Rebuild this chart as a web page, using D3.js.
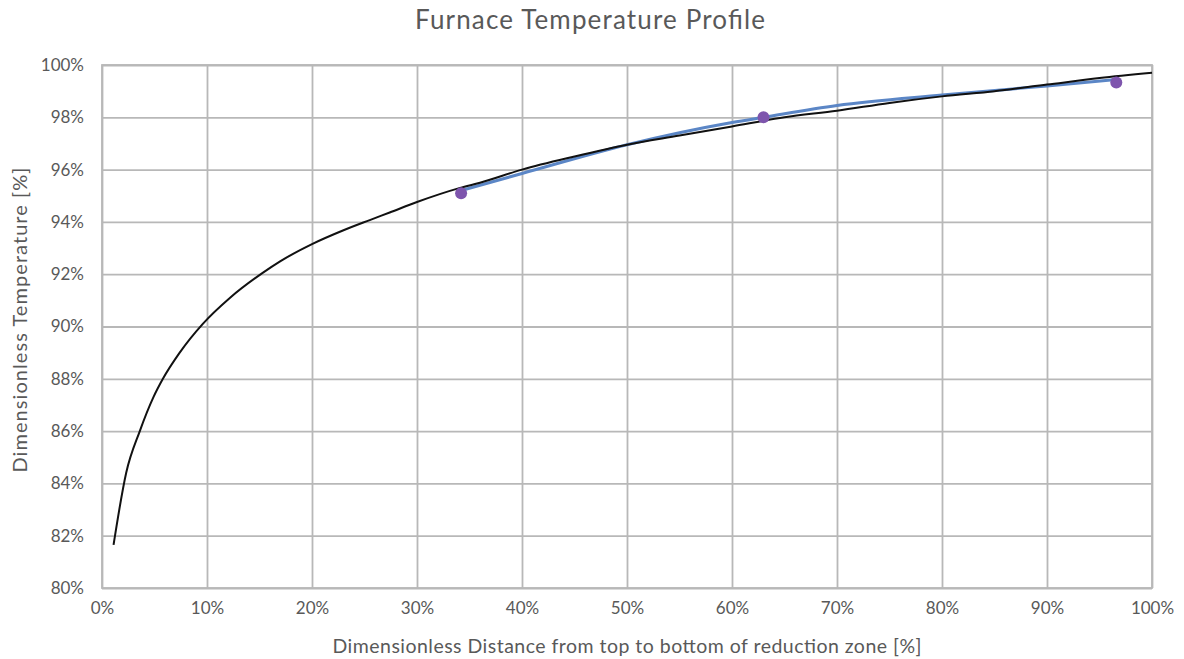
<!DOCTYPE html>
<html>
<head>
<meta charset="utf-8">
<script src="https://cdn.jsdelivr.net/npm/d3@7"></script>
<style>
  body { margin: 0; background: #fff; }
  text { font-family: Lato, "Open Sans", sans-serif; fill: #595959; }
</style>
</head>
<body>
<div id="chart"></div>
<script>
// measured profile (x = distance %, y = temperature %)
var profileX = [1.1, 2.3, 3.6, 4.9, 5.8, 7.4, 9.6, 12.2, 15.3, 17, 20, 23, 25.5, 27.4, 30, 34.1, 36, 40, 45, 50, 55, 60, 65, 70, 75, 80, 85, 90, 95, 100];
var profileY = [81.65, 84.4, 86.0, 87.3, 88.0, 89.0, 90.1, 91.1, 92.05, 92.5, 93.15, 93.68, 94.07, 94.36, 94.76, 95.3, 95.5, 96.0, 96.5, 96.95, 97.3, 97.65, 98.0, 98.25, 98.55, 98.8, 99.0, 99.25, 99.5, 99.7];

// fitted trend
var fitX = [34.2, 40, 50, 60, 63, 70, 80, 90, 96.6];
var fitY = [95.2, 95.85, 96.95, 97.8, 98.0, 98.45, 98.85, 99.2, 99.45];

// sample points
var pointX = [34.2, 63.0, 96.6];
var pointY = [95.1, 98.0, 99.33];

var xTicks = [0, 10, 20, 30, 40, 50, 60, 70, 80, 90, 100];
var yTicks = [80, 82, 84, 86, 88, 90, 92, 94, 96, 98, 100];

var svgWidth = 1184;
var svgHeight = 659;

var margin = {
  top: 65,
  right: 32,
  bottom: 71,
  left: 102
};

var width = svgWidth - margin.left - margin.right;
var height = svgHeight - margin.top - margin.bottom;

var svg = d3.select("#chart")
  .append("svg")
  .attr("width", svgWidth)
  .attr("height", svgHeight);

var chartGroup = svg.append("g")
  .attr("transform", `translate(${margin.left}, ${margin.top})`);

var xScale = d3.scaleLinear().domain([0, 100]).range([0, width]);
var yScale = d3.scaleLinear().domain([80, 100]).range([height, 0]);

// gridlines
var bottomAxis = d3.axisBottom(xScale)
  .tickValues(xTicks)
  .tickSize(-height)
  .tickFormat(d => d + "%")
  .tickPadding(14);

var leftAxis = d3.axisLeft(yScale)
  .tickValues(yTicks)
  .tickSize(-width)
  .tickFormat(d => d + "%")
  .tickPadding(18);

var xAxisG = chartGroup.append("g")
  .attr("transform", `translate(0, ${height})`)
  .call(bottomAxis);

var yAxisG = chartGroup.append("g")
  .call(leftAxis);

[xAxisG, yAxisG].forEach(function(g) {
  g.select(".domain").remove();
  g.selectAll("line").attr("stroke", "#b8b8b8").attr("stroke-width", 1.8);
  g.selectAll("text").style("font-size", "17px").attr("fill", "#595959");
});

// plot border
chartGroup.append("rect")
  .attr("width", width)
  .attr("height", height)
  .attr("fill", "none")
  .attr("stroke", "#b8b8b8")
  .attr("stroke-width", 1.8);

var profile = profileX.map((x, i) => [x, profileY[i]]);
var fit = fitX.map((x, i) => [x, fitY[i]]);

var line = d3.line()
  .x(d => xScale(d[0]))
  .y(d => yScale(d[1]))
  .curve(d3.curveMonotoneX);

chartGroup.append("path")
  .datum(fit)
  .attr("d", line)
  .attr("fill", "none")
  .attr("stroke", "#5b86c6")
  .attr("stroke-width", 3);

chartGroup.append("path")
  .datum(profile)
  .attr("d", line)
  .attr("fill", "none")
  .attr("stroke", "#111")
  .attr("stroke-width", 2);

chartGroup.selectAll("circle")
  .data(pointX)
  .enter()
  .append("circle")
  .attr("cx", d => xScale(d))
  .attr("cy", (d, i) => yScale(pointY[i]))
  .attr("r", 6)
  .attr("fill", "#7e55ad");

// title and axis labels
svg.append("text")
  .attr("x", 590)
  .attr("y", 29)
  .attr("text-anchor", "middle")
  .attr("textLength", 350)
  .attr("lengthAdjust", "spacing")
  .style("font-size", "26px")
  .text("Furnace Temperature Profile");

svg.append("text")
  .attr("x", 627)
  .attr("y", 653)
  .attr("text-anchor", "middle")
  .attr("textLength", 589)
  .attr("lengthAdjust", "spacing")
  .style("font-size", "19.5px")
  .text("Dimensionless Distance from top to bottom of reduction zone [%]");

svg.append("text")
  .attr("transform", "translate(27, 320) rotate(-90)")
  .attr("text-anchor", "middle")
  .attr("textLength", 305)
  .attr("lengthAdjust", "spacing")
  .style("font-size", "20px")
  .text("Dimensionless Temperature [%]");
</script>
</body>
</html>
